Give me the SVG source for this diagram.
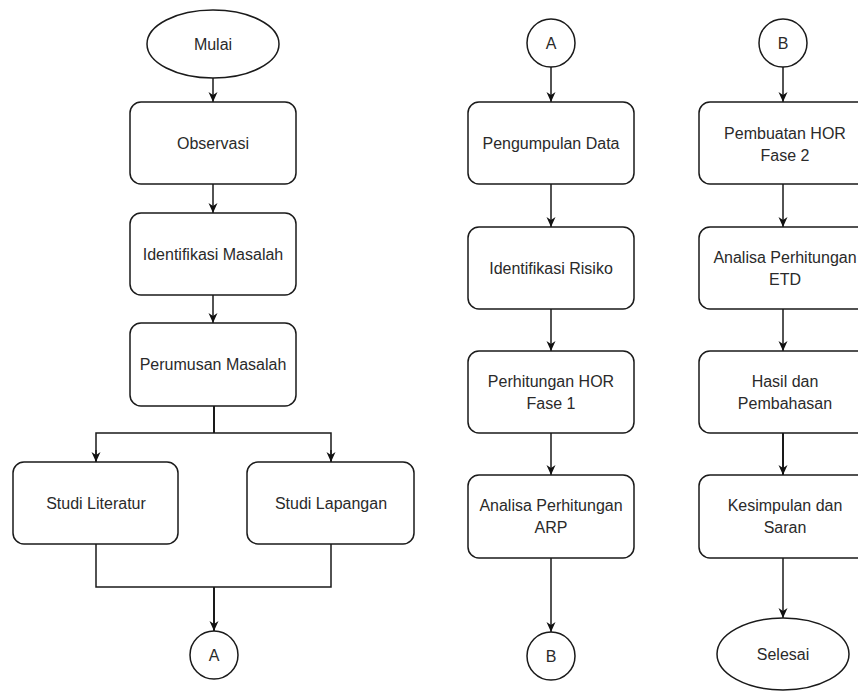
<svg xmlns="http://www.w3.org/2000/svg" width="858" height="692" viewBox="0 0 858 692">
<defs>
<style>
.box{fill:#fff;stroke:#1a1a1a;stroke-width:1.5}
.t{font-family:"Liberation Sans",Arial,sans-serif;font-size:16px;fill:#2a2a2a;text-anchor:middle}
.c{fill:none;stroke:#1a1a1a;stroke-width:1.5}
.ct{fill:none;stroke:#1a1a1a;stroke-width:2}
</style>
<marker id="ah" viewBox="0 0 10 10" refX="10" refY="5" markerWidth="10" markerHeight="10" markerUnits="userSpaceOnUse" orient="auto">
<path d="M0,0.5 L10,5 L0,9.5 L3,5 z" fill="#111"/>
</marker>
</defs>
<rect width="858" height="692" fill="#fff"/>

<g id="connectors">
<line class="c" x1="213" y1="78" x2="213" y2="102" marker-end="url(#ah)"/>
<line class="c" x1="213" y1="184" x2="213" y2="213" marker-end="url(#ah)"/>
<line class="c" x1="213" y1="295" x2="213" y2="323" marker-end="url(#ah)"/>
<line class="ct" x1="214" y1="406" x2="214" y2="433"/>
<polyline class="c" points="96,462 96,433 331,433 331,462"/>
<line class="c" x1="96" y1="450" x2="96" y2="462" marker-end="url(#ah)"/>
<line class="c" x1="331" y1="450" x2="331" y2="462" marker-end="url(#ah)"/>
<polyline class="c" points="96,544 96,587 331,587 331,544"/>
<line class="ct" x1="214" y1="587" x2="214" y2="631" marker-end="url(#ah)"/>

<line class="c" x1="551" y1="67" x2="551" y2="102" marker-end="url(#ah)"/>
<line class="c" x1="551" y1="184" x2="551" y2="227" marker-end="url(#ah)"/>
<line class="c" x1="551" y1="309" x2="551" y2="351" marker-end="url(#ah)"/>
<line class="c" x1="551" y1="433" x2="551" y2="475" marker-end="url(#ah)"/>
<line class="c" x1="551" y1="558" x2="551" y2="632" marker-end="url(#ah)"/>

<line class="c" x1="783" y1="67" x2="783" y2="102" marker-end="url(#ah)"/>
<line class="c" x1="783" y1="184" x2="783" y2="227" marker-end="url(#ah)"/>
<line class="c" x1="783" y1="309" x2="783" y2="351" marker-end="url(#ah)"/>
<line class="ct" x1="783" y1="433" x2="783" y2="475" marker-end="url(#ah)"/>
<line class="c" x1="783" y1="558" x2="783" y2="618" marker-end="url(#ah)"/>
</g>

<g id="mulai"><ellipse class="box" cx="213" cy="44" rx="66" ry="34"/><text class="t" x="213" y="50">Mulai</text></g>
<g id="observasi"><rect class="box" x="130" y="102" width="166" height="82" rx="11"/><text class="t" x="213" y="149">Observasi</text></g>
<g id="identifikasi-masalah"><rect class="box" x="130" y="213" width="166" height="82" rx="11"/><text class="t" x="213" y="260">Identifikasi Masalah</text></g>
<g id="perumusan-masalah"><rect class="box" x="130" y="323" width="166" height="83" rx="11"/><text class="t" x="213" y="370">Perumusan Masalah</text></g>
<g id="studi-literatur"><rect class="box" x="13" y="462" width="165" height="82" rx="11"/><text class="t" x="96" y="509">Studi Literatur</text></g>
<g id="studi-lapangan"><rect class="box" x="247" y="462" width="167" height="82" rx="11"/><text class="t" x="331" y="509">Studi Lapangan</text></g>
<g id="conn-a1"><circle class="box" cx="214" cy="655" r="24"/><text class="t" x="214" y="661">A</text></g>

<g id="conn-a2"><circle class="box" cx="551" cy="43" r="24"/><text class="t" x="551" y="49">A</text></g>
<g id="pengumpulan-data"><rect class="box" x="468" y="102" width="166" height="82" rx="11"/><text class="t" x="551" y="149">Pengumpulan Data</text></g>
<g id="identifikasi-risiko"><rect class="box" x="468" y="227" width="166" height="82" rx="11"/><text class="t" x="551" y="274">Identifikasi Risiko</text></g>
<g id="perhitungan-hor-1"><rect class="box" x="468" y="351" width="166" height="82" rx="11"/><text class="t" x="551" y="387">Perhitungan HOR</text><text class="t" x="551" y="409">Fase 1</text></g>
<g id="analisa-arp"><rect class="box" x="468" y="475" width="166" height="83" rx="11"/><text class="t" x="551" y="511">Analisa Perhitungan</text><text class="t" x="551" y="533">ARP</text></g>
<g id="conn-b1"><circle class="box" cx="551" cy="656" r="24"/><text class="t" x="551" y="662">B</text></g>

<g id="conn-b2"><circle class="box" cx="783" cy="43" r="24"/><text class="t" x="783" y="49">B</text></g>
<g id="pembuatan-hor-2"><rect class="box" x="699" y="102" width="170" height="82" rx="11"/><text class="t" x="785" y="139">Pembuatan HOR</text><text class="t" x="785" y="161">Fase 2</text></g>
<g id="analisa-etd"><rect class="box" x="699" y="227" width="170" height="82" rx="11"/><text class="t" x="785" y="263">Analisa Perhitungan</text><text class="t" x="785" y="285">ETD</text></g>
<g id="hasil-pembahasan"><rect class="box" x="699" y="351" width="170" height="82" rx="11"/><text class="t" x="785" y="387">Hasil dan</text><text class="t" x="785" y="409">Pembahasan</text></g>
<g id="kesimpulan-saran"><rect class="box" x="699" y="475" width="170" height="83" rx="11"/><text class="t" x="785" y="511">Kesimpulan dan</text><text class="t" x="785" y="533">Saran</text></g>
<g id="selesai"><ellipse class="box" cx="783" cy="654" rx="66" ry="36"/><text class="t" x="783" y="660">Selesai</text></g>
</svg>
